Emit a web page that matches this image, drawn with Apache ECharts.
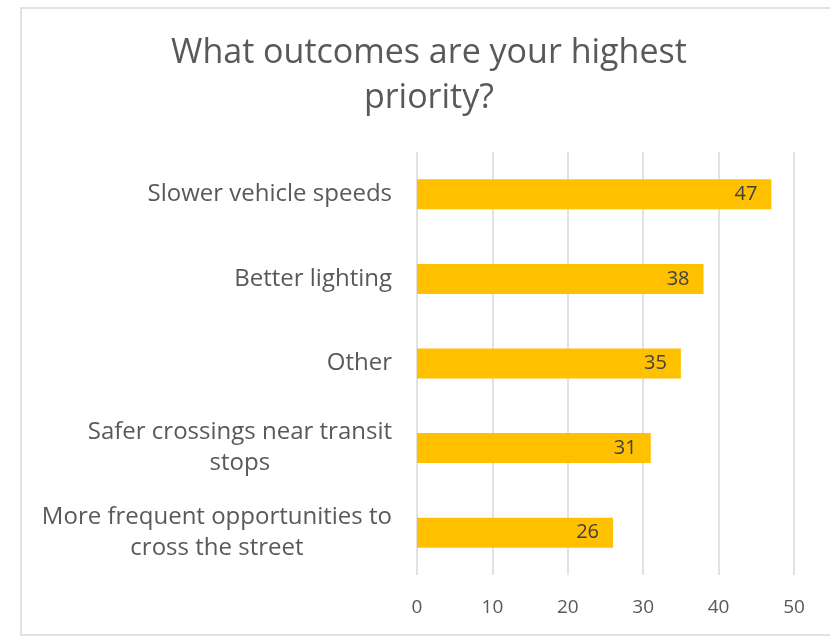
<!DOCTYPE html>
<html>
<head>
<meta charset="utf-8">
<script src="https://cdn.jsdelivr.net/npm/echarts@6/dist/echarts.min.js"></script>
<style>html,body{margin:0;padding:0;background:#fff}#c{width:830px;height:636px}</style>
</head>
<body>
<div id="c"></div>
<script>
const titleText = 'What outcomes are your highest\npriority?';
const categories = [
  'Slower vehicle speeds',
  'Better lighting',
  'Other',
  'Safer crossings near transit\nstops',
  'More frequent opportunities to\ncross the street'
];
const values = [47, 38, 35, 31, 26];
const xTicks = { min: 0, max: 50, interval: 10 };

const FONT = '"Open Sans", sans-serif';
const centerLines = (tag, v) => v.split('\n').map(s => '{' + tag + '|' + s + '}').join('\n');
const chart = echarts.init(document.getElementById('c'), null, { renderer: 'canvas' });
chart.setOption({
  backgroundColor: '#ffffff',
  animation: false,
  graphic: [{
    type: 'rect', shape: { x: 21, y: 8, width: 830, height: 627 },
    style: { fill: 'none', stroke: '#d9d9d9', lineWidth: 1.5 }, silent: true, z: -1
  }],
  title: {
    text: centerLines('t', titleText), left: 166, top: 26,
    textStyle: {
      fontFamily: FONT, fontSize: 34, fontWeight: 'normal', color: '#595959', lineHeight: 45,
      rich: { t: { align: 'center', fontFamily: FONT, fontSize: 34, color: '#595959', lineHeight: 45 } }
    }
  },
  grid: { left: 417, right: 36, top: 152, bottom: 61, containLabel: false },
  xAxis: {
    type: 'value', min: xTicks.min, max: xTicks.max, interval: xTicks.interval,
    axisLine: { show: false }, axisTick: { show: false },
    splitLine: { show: true, lineStyle: { color: '#d9d9d9', width: 1.5 } },
    axisLabel: { margin: 23, fontFamily: FONT, fontSize: 19, color: '#595959' }
  },
  yAxis: {
    type: 'category', data: categories, inverse: true,
    axisLine: { show: false }, axisTick: { show: false },
    axisLabel: {
      margin: 25, fontFamily: FONT, fontSize: 24, color: '#595959',
      formatter: function (v) { return centerLines('a', v); },
      rich: { a: { align: 'center', fontFamily: FONT, fontSize: 24, color: '#595959', lineHeight: 31 } }
    }
  },
  series: [{
    type: 'bar', data: values, barWidth: '35.5%',
    itemStyle: { color: '#ffc000' },
    label: { show: true, position: 'insideRight', distance: 14, fontFamily: FONT, fontSize: 20, color: '#404040' }
  }]
});
</script>
</body>
</html>
